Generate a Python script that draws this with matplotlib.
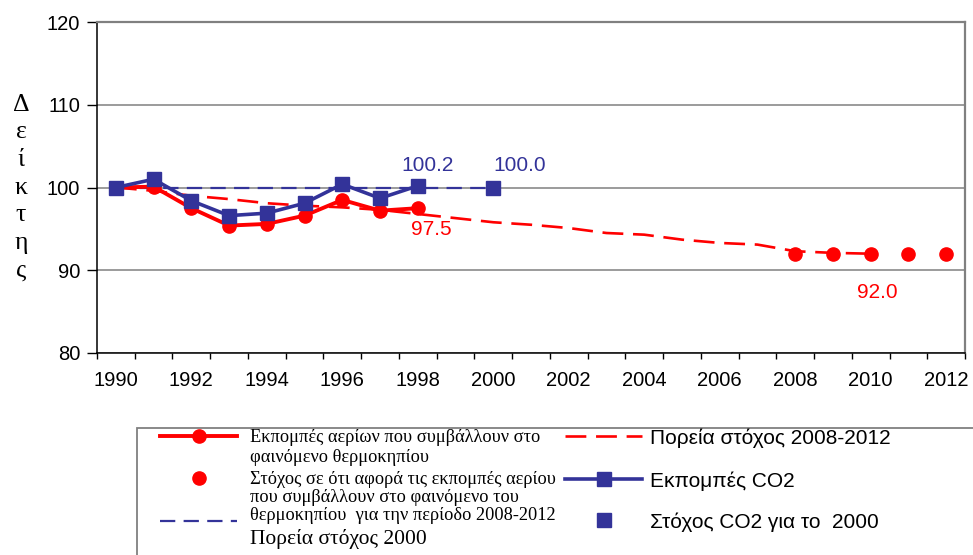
import matplotlib
matplotlib.use('Agg')
import matplotlib.pyplot as plt
from matplotlib.patches import Rectangle

# categories (Excel style category axis)
years = list(range(1990, 2013))

# index values, 1990 = 100
ghg_years = [1990, 1991, 1992, 1993, 1994, 1995, 1996, 1997, 1998]
ghg = [100.0, 100.1, 97.5, 95.4, 95.6, 96.6, 98.5, 97.2, 97.5]

co2_years = [1990, 1991, 1992, 1993, 1994, 1995, 1996, 1997, 1998]
co2 = [100.0, 101.0, 98.4, 96.6, 96.9, 98.1, 100.4, 98.7, 100.2]

path12_years = list(range(1990, 2011))
path12 = [100.0, 99.6, 99.0, 98.6, 98.1, 97.8, 97.6, 97.3, 96.8, 96.3, 95.8,
          95.5, 95.1, 94.5, 94.3, 93.7, 93.3, 93.1, 92.3, 92.1, 92.0]

path00_years = list(range(1990, 2001))
path00 = [100.0, 100.0, 100.0, 100.0, 100.0, 100.0, 100.0, 100.0, 100.0, 100.0, 100.0]

target_ghg_years = [2008, 2009, 2010, 2011, 2012]
target_ghg = [92.0, 92.0, 92.0, 92.0, 92.0]

target_co2_years = [2000]
target_co2 = [100.0]

yticks = [80, 90, 100, 110, 120]

RED = '#ff0000'
NAVY = '#333399'
GRID = '#808080'
SANS = 'Liberation Sans'
SERIF = 'Liberation Serif'

plt.rcParams['font.family'] = SANS
plt.rcParams['lines.scale_dashes'] = False


def pos(ys):
    return [years.index(y) for y in ys]


W, H = 973, 555
fig = plt.figure(figsize=(W / 100, H / 100), dpi=100)
ax = fig.add_axes([97 / W, 1 - 353 / H, 868 / W, 331 / H])

# target paths (dashed)
l_path12, = ax.plot(pos(path12_years), path12, color=RED, lw=1.9, dashes=(15, 7), zorder=2)
l_path00, = ax.plot(pos(path00_years), path00, color=NAVY, lw=1.6, dashes=(11, 6), zorder=2)

# emissions
l_ghg, = ax.plot(pos(ghg_years), ghg, color=RED, lw=2.8, marker='o', ms=9.5,
                 mec=RED, zorder=3)
l_co2, = ax.plot(pos(co2_years), co2, color=NAVY, lw=2.6, marker='s', ms=9.5,
                 mec=NAVY, zorder=4)

# targets
l_tghg, = ax.plot(pos(target_ghg_years), target_ghg, ls='none', marker='o', ms=9.5,
                  color=RED, zorder=4)
l_tco2, = ax.plot(pos(target_co2_years), target_co2, ls='none', marker='s', ms=9.5,
                  color=NAVY, zorder=5)

# value labels
lab_kw = dict(textcoords='offset points', ha='center', va='center', fontsize=15)
ax.annotate(f'{co2[-1]:.1f}', (pos(co2_years)[-1], co2[-1]), xytext=(7, 15),
            color=NAVY, **lab_kw)
ax.annotate(f'{target_co2[0]:.1f}', (pos(target_co2_years)[0], target_co2[0]),
            xytext=(19, 16), color=NAVY, **lab_kw)
ax.annotate(f'{ghg[-1]:.1f}', (pos(ghg_years)[-1], ghg[-1]), xytext=(10, -15),
            color=RED, **lab_kw)
ax.annotate(f'{target_ghg[2]:.1f}', (pos(target_ghg_years)[2], target_ghg[2]),
            xytext=(4.5, -28), color=RED, **lab_kw)

# axes
ax.set_xlim(-0.5, len(years) - 0.5)
ax.set_ylim(80, 120)
ax.set_yticks(yticks)
ax.set_yticklabels([str(v) for v in yticks], fontsize=14.5)
ax.set_xticks(range(0, len(years), 2))
ax.set_xticklabels([str(y) for y in years[::2]], fontsize=14.5)
ax.set_xticks([i - 0.5 for i in range(len(years) + 1)], minor=True)
ax.tick_params(axis='x', which='major', length=0, pad=13)
ax.tick_params(axis='x', which='minor', length=4.5, width=1, color='black')
ax.tick_params(axis='y', length=7, width=1, pad=5, color='black')
ax.grid(axis='y', color=GRID, lw=1.1)
ax.set_axisbelow(True)
for s in ['top', 'right']:
    ax.spines[s].set_color(GRID)
    ax.spines[s].set_linewidth(1.6)
for s in ['left', 'bottom']:
    ax.spines[s].set_color('black')
    ax.spines[s].set_linewidth(1.1)

ax.set_ylabel('Δ\nε\nί\nκ\nτ\nη\nς', rotation=0, fontsize=18.5, family=SERIF,
              linespacing=1.33, va='center', ha='center')
ax.yaxis.set_label_coords((21 - 97) / 868, 0.5)

# legend (Excel layout: handle aligned with the first text line)
fig.add_artist(Rectangle((137 / W, -0.2), 1.0, 1.2 - 428 / H, transform=fig.transFigure,
                         fill=False, edgecolor=GRID, lw=1.3, clip_on=False))


def legend_entry(handle, label, x, y, size, family, hlen_px, pad_px):
    fs = size * 100 / 72
    leg = fig.legend([handle], [label], loc='center left',
                     bbox_to_anchor=(x / W, 1 - y / H), frameon=False,
                     borderpad=0, borderaxespad=0, numpoints=1,
                     handlelength=hlen_px / fs, handletextpad=pad_px / fs,
                     prop={'family': family, 'size': size})
    return leg


legend_entry(l_ghg, 'Εκπομπές αερίων που συμβάλλουν στο', 160, 438, 13.2, SERIF, 77, 13)
legend_entry(l_tghg, 'Στόχος σε ότι αφορά τις εκπομπές αερίου', 160, 480, 13.2, SERIF, 77, 13)
legend_entry(l_path00, ' ', 160, 523, 13.2, SERIF, 77, 13)
legend_entry(l_path12, 'Πορεία στόχος 2008-2012', 565, 438, 15, SANS, 77, 8)
legend_entry(l_co2, 'Εκπομπές CO2', 565, 481, 15, SANS, 77, 8)
legend_entry(l_tco2, 'Στόχος CO2 για το  2000', 565, 522, 15, SANS, 77, 8)

extra_lines = [('φαινόμενο θερμοκηπίου', 457, 13.2),
               ('που συμβάλλουν στο φαινόμενο του', 497, 13.2),
               ('θερμοκηπίου  για την περίοδο 2008-2012', 515, 13.2),
               ('Πορεία στόχος 2000', 539, 15.5)]
for txt, y, size in extra_lines:
    fig.text(250 / W, 1 - y / H, txt, family=SERIF, fontsize=size, va='center', ha='left')

fig.savefig('out.png', dpi=100)
